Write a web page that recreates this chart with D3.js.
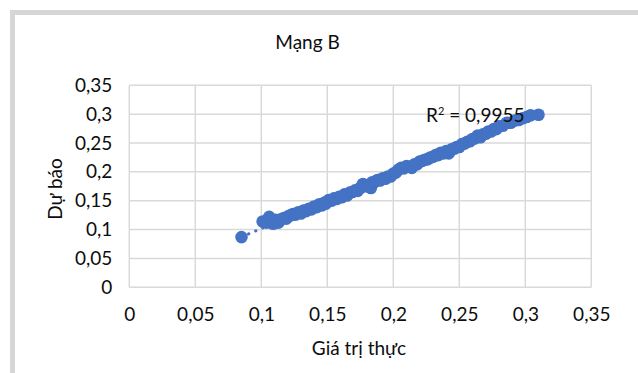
<!DOCTYPE html>
<html>
<head>
<meta charset="utf-8">
<script src="https://cdn.jsdelivr.net/npm/d3@7"></script>
<style>
  html, body { margin: 0; padding: 0; background: #fff; }
  svg { display: block; font-family: Lato, "Open Sans", sans-serif; }
</style>
</head>
<body>
<svg id="chart" width="638" height="373"></svg>
<script>
// Actual (measured) values and network B predictions
const actual = [0.085, 0.101, 0.104, 0.106, 0.107, 0.109, 0.111, 0.113, 0.115, 0.117,
  0.119, 0.121, 0.123, 0.124, 0.126, 0.128, 0.130, 0.132, 0.134, 0.136,
  0.138, 0.140, 0.142, 0.144, 0.146, 0.148, 0.149, 0.151, 0.153, 0.155,
  0.157, 0.159, 0.161, 0.163, 0.165, 0.167, 0.169, 0.171, 0.173, 0.175,
  0.177, 0.179, 0.181, 0.183, 0.184, 0.186, 0.188, 0.190, 0.192, 0.194,
  0.196, 0.198, 0.200, 0.202, 0.204, 0.206, 0.208, 0.210, 0.212, 0.214,
  0.216, 0.218, 0.220, 0.222, 0.224, 0.226, 0.228, 0.230, 0.232, 0.234,
  0.236, 0.238, 0.240, 0.242, 0.244, 0.246, 0.248, 0.250, 0.252, 0.254,
  0.256, 0.258, 0.260, 0.262, 0.264, 0.266, 0.268, 0.270, 0.272, 0.274,
  0.276, 0.278, 0.280, 0.283, 0.286, 0.289, 0.292, 0.295, 0.298, 0.301,
  0.304, 0.310];
const predicted = [0.087, 0.114, 0.112, 0.122, 0.117, 0.110, 0.117, 0.112, 0.118, 0.120,
  0.119, 0.124, 0.125, 0.127, 0.126, 0.130, 0.128, 0.133, 0.132, 0.136,
  0.135, 0.140, 0.139, 0.144, 0.142, 0.147, 0.145, 0.151, 0.150, 0.154,
  0.153, 0.157, 0.156, 0.161, 0.159, 0.164, 0.165, 0.168, 0.167, 0.172,
  0.179, 0.175, 0.177, 0.172, 0.182, 0.183, 0.186, 0.185, 0.189, 0.188,
  0.192, 0.192, 0.197, 0.199, 0.204, 0.207, 0.206, 0.210, 0.209, 0.207,
  0.213, 0.213, 0.218, 0.219, 0.221, 0.222, 0.225, 0.226, 0.229, 0.229,
  0.233, 0.232, 0.236, 0.232, 0.239, 0.240, 0.243, 0.243, 0.248, 0.249,
  0.252, 0.253, 0.257, 0.258, 0.263, 0.260, 0.265, 0.266, 0.270, 0.270,
  0.274, 0.274, 0.279, 0.280, 0.285, 0.285, 0.289, 0.290, 0.293, 0.295,
  0.298, 0.299];
const xTicks = [0, 0.05, 0.1, 0.15, 0.2, 0.25, 0.3, 0.35];
const yTicks = [0, 0.05, 0.1, 0.15, 0.2, 0.25, 0.3, 0.35];
const chartTitle = "Mạng B";
const xTitle = "Giá trị thực";
const yTitle = "Dự báo";

const svg = d3.select("#chart");
const blue = "#4472c4";
const grid = "#d9d9d9";
const ink = "#0d0d0d";
const fs = 19;
const fmt = v => String(+v.toFixed(2)).replace(".", ",");

const x = d3.scaleLinear().domain([0, 0.35]).range([129.3, 591.3]);
const y = d3.scaleLinear().domain([0, 0.35]).range([287.3, 85.3]);

// chart frame
svg.append("rect")
  .attr("x", 12.5).attr("y", 12.5).attr("width", 700).attr("height", 500)
  .attr("fill", "#fff").attr("stroke", "#d6d6d6").attr("stroke-width", 5);

// gridlines
const g = svg.append("g");
g.selectAll("line.v").data(xTicks).join("line")
  .attr("x1", d => x(d)).attr("x2", d => x(d))
  .attr("y1", y(0.35)).attr("y2", y(0))
  .attr("stroke", grid).attr("stroke-width", 1.5);
g.selectAll("line.h").data(yTicks).join("line")
  .attr("y1", d => y(d)).attr("y2", d => y(d))
  .attr("x1", x(0)).attr("x2", x(0.35))
  .attr("stroke", grid).attr("stroke-width", 1.5);

// axes (labels only, lines are the gridlines)
const xAxis = svg.append("g").attr("transform", `translate(0,${y(0)})`)
  .call(d3.axisBottom(x).tickValues(xTicks).tickFormat(fmt).tickSize(0).tickPadding(20));
const yAxis = svg.append("g").attr("transform", `translate(${x(0)},0)`)
  .call(d3.axisLeft(y).tickValues(yTicks).tickFormat(fmt).tickSize(0).tickPadding(17));
[xAxis, yAxis].forEach(a => {
  a.select(".domain").remove();
  a.selectAll("text").attr("font-size", fs).attr("fill", ink)
    .attr("font-family", "Lato, 'Open Sans', sans-serif");
});

// linear trendline computed from the data
const pts = actual.map((a, i) => [a, predicted[i]]);
const mx = d3.mean(actual), my = d3.mean(predicted);
const sxy = d3.sum(pts, p => (p[0] - mx) * (p[1] - my));
const sxx = d3.sum(pts, p => (p[0] - mx) ** 2);
const slope = sxy / sxx, icpt = my - slope * mx;
const [x0, x1] = d3.extent(actual);

// points
svg.append("g").selectAll("circle").data(pts).join("circle")
  .attr("cx", d => x(d[0])).attr("cy", d => y(d[1])).attr("r", 6.3)
  .attr("fill", blue);

svg.append("line")
  .attr("x1", x(x0)).attr("y1", y(slope * x0 + icpt))
  .attr("x2", x(x1)).attr("y2", y(slope * x1 + icpt))
  .attr("stroke", blue).attr("stroke-width", 3.2)
  .attr("stroke-linecap", "round").attr("stroke-dasharray", "0.1,7.6");

// R² label
const r2 = svg.append("text").attr("x", 426).attr("y", 122)
  .attr("font-size", fs).attr("fill", ink);
r2.append("tspan").text("R");
r2.append("tspan").text("2").attr("font-size", 11).attr("dy", -7);
r2.append("tspan").text(" = 0,9955").attr("dy", 7);

// titles
svg.append("text").attr("x", 307.5).attr("y", 49).attr("text-anchor", "middle")
  .attr("font-size", fs).attr("fill", ink).text(chartTitle);
svg.append("text").attr("x", 359).attr("y", 355).attr("text-anchor", "middle")
  .attr("font-size", fs).attr("fill", ink).text(xTitle);
svg.append("text").attr("transform", "translate(62,189) rotate(-90)")
  .attr("text-anchor", "middle")
  .attr("font-size", fs).attr("fill", ink).text(yTitle);
</script>
</body>
</html>
